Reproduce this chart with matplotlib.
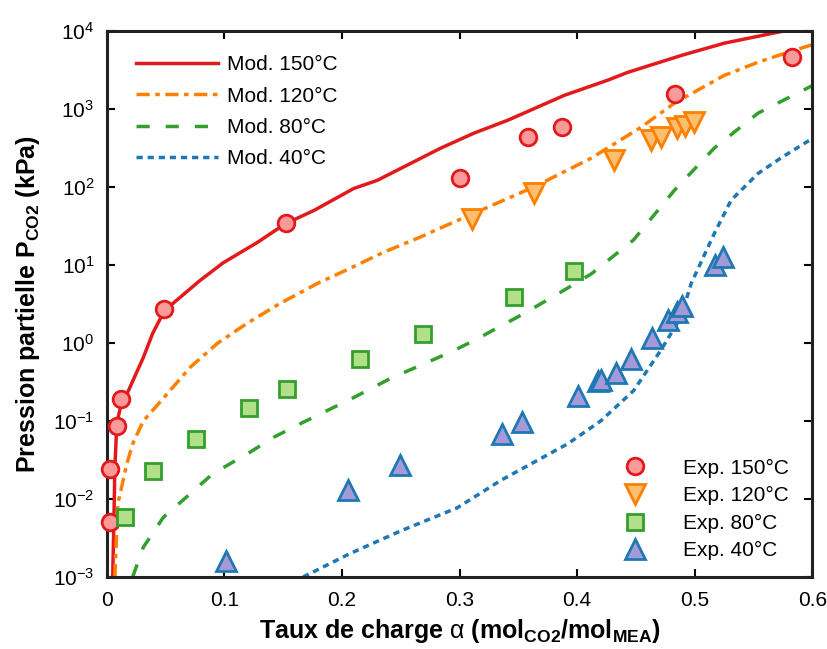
import numpy as np
import matplotlib
matplotlib.use("Agg")
import matplotlib.pyplot as plt

plt.rcParams['font.family'] = ['Liberation Sans', 'DejaVu Sans']
plt.rcParams['mathtext.fontset'] = 'custom'
plt.rcParams['mathtext.rm'] = 'Liberation Sans'
plt.rcParams['mathtext.bf'] = 'Liberation Sans:bold'
plt.rcParams['mathtext.it'] = 'Liberation Sans:italic'

# Model curves (loading alpha, partial pressure kPa)
mod150_x = [0.005, 0.006, 0.0068, 0.0085, 0.012, 0.017, 0.031, 0.039, 0.049, 0.079, 0.099,
            0.128, 0.152, 0.176, 0.210, 0.230, 0.284, 0.312, 0.341, 0.389, 0.426, 0.443,
            0.489, 0.525, 0.575, 0.600]
mod150_p = [0.001, 0.005, 0.024, 0.093, 0.16, 0.22, 0.65, 1.33, 2.6, 6.3, 10.7,
            19.5, 34, 50, 96, 122, 316, 490, 720, 1500, 2350, 2960,
            4900, 7000, 10000, 12500]

mod120_x = [0.0068, 0.0094, 0.017, 0.022, 0.031, 0.051, 0.071, 0.094, 0.119, 0.147, 0.179,
            0.207, 0.235, 0.267, 0.284, 0.312, 0.363, 0.412, 0.454, 0.483, 0.525, 0.554,
            0.580, 0.600]
mod120_p = [0.001, 0.0087, 0.028, 0.051, 0.10, 0.22, 0.49, 0.99, 1.78, 3.2, 5.8,
            9.1, 14.5, 23, 30, 46, 100, 235, 580, 1200, 2700, 4000,
            5400, 6700]

mod80_x = [0.022, 0.031, 0.048, 0.071, 0.090, 0.122, 0.142, 0.165, 0.210, 0.241, 0.292,
           0.312, 0.355, 0.384, 0.412, 0.448, 0.483, 0.517, 0.554, 0.600]
mod80_p = [0.001, 0.0024, 0.0058, 0.0117, 0.021, 0.040, 0.062, 0.093, 0.20, 0.35, 0.76,
           1.07, 2.4, 4.3, 7.7, 21, 92, 320, 890, 2000]

mod40_x = [0.167, 0.207, 0.250, 0.298, 0.335, 0.392, 0.420, 0.448, 0.471, 0.488, 0.497,
           0.517, 0.531, 0.554, 0.574, 0.600]
mod40_p = [0.001, 0.002, 0.0039, 0.0077, 0.0173, 0.051, 0.10, 0.245, 0.80, 2.1, 5.8,
           26, 68, 150, 240, 420]

# Experimental points
exp150_x = [0.0026, 0.003, 0.0085, 0.012, 0.049, 0.152, 0.300, 0.358, 0.387, 0.483, 0.583]
exp150_p = [0.005, 0.024, 0.087, 0.19, 2.7, 35, 130, 435, 590, 1550, 4600]

exp120_x = [0.311, 0.363, 0.431, 0.463, 0.471, 0.485, 0.492, 0.499]
exp120_p = [39, 83, 220, 400, 435, 570, 600, 680]

exp80_x = [0.0153, 0.039, 0.076, 0.121, 0.153, 0.215, 0.269, 0.346, 0.397]
exp80_p = [0.0059, 0.023, 0.058, 0.145, 0.26, 0.63, 1.29, 3.85, 8.4]

exp40_x = [0.101, 0.205, 0.249, 0.336, 0.353, 0.401, 0.418, 0.420, 0.433, 0.446, 0.464,
           0.477, 0.485, 0.489, 0.517, 0.524]
exp40_p = [0.0016, 0.013, 0.027, 0.068, 0.096, 0.21, 0.33, 0.34, 0.41, 0.63, 1.17,
           1.95, 2.5, 3.0, 10, 12.6]

red, orange, green, blue = '#e31a1c', '#ff7f00', '#33a02c', '#1f78b4'
lw = 2.5

fig = plt.figure(figsize=(8.28, 6.49), dpi=100)
ax = fig.add_axes([0.129, 0.111, 0.852, 0.841])

l1, = ax.plot(mod150_x, mod150_p, color=red, lw=lw, ls='-')
l2, = ax.plot(mod120_x, mod120_p, color=orange, lw=lw, ls=(0, (3.8, 1.6, 1.3, 1.6)))
l3, = ax.plot(mod80_x, mod80_p, color=green, lw=lw, ls=(0, (3.8, 4.6)))
l4, = ax.plot(mod40_x, mod40_p, color=blue, lw=lw, ls=(0, (1.8, 1.4)))

mk = dict(ls='none', mew=2.0, clip_on=False, zorder=5)
m1, = ax.plot(exp150_x, exp150_p, marker='o', ms=12, mfc='#fb9a99', mec=red, **mk)
m2, = ax.plot(exp120_x, exp120_p, marker='v', ms=14, mfc='#fdbf6f', mec=orange, **mk)
m3, = ax.plot(exp80_x, exp80_p, marker='s', ms=12, mfc='#b2df8a', mec=green, **mk)
m4, = ax.plot(exp40_x, exp40_p, marker='^', ms=14, mfc='#a59ad8', mec=blue, **mk)

ax.set_yscale('log')
ax.set_xlim(0, 0.6)
ax.set_ylim(1e-3, 1e4)
ax.set_xticks([0, 0.1, 0.2, 0.3, 0.4, 0.5, 0.6])
ax.set_xticklabels(['0', '0.1', '0.2', '0.3', '0.4', '0.5', '0.6'])
ax.set_yticks([10.0 ** k for k in range(-3, 5)])
ax.yaxis.set_minor_locator(matplotlib.ticker.NullLocator())
ax.tick_params(which='both', direction='in', top=True, right=True, length=6, width=1.5,
               labelsize=15)
ax.tick_params(axis='x', pad=10)
ax.tick_params(axis='y', pad=9)
for s in ax.spines.values():
    s.set_linewidth(2.2)
    s.set_color('#222222')

ax.set_xlabel('Taux de charge $\\mathrm{α}$ (mol$_{\\mathbf{CO2}}$/mol$_{\\mathbf{MEA}}$)',
              fontsize=18, fontweight='bold', labelpad=5)
ax.set_ylabel('Pression partielle P$_{\\mathbf{CO2}}$ (kPa)', fontsize=18,
              fontweight='bold', labelpad=8)

leg1 = ax.legend([l1, l2, l3, l4], ['Mod. 150°C', 'Mod. 120°C', 'Mod. 80°C', 'Mod. 40°C'],
                 loc='upper left', bbox_to_anchor=(0.03, 0.971), frameon=False, fontsize=15,
                 handlelength=3.9, handletextpad=0.45, labelspacing=0.59, borderaxespad=0)
ax.add_artist(leg1)
ax.legend([m1, m2, m3, m4], ['Exp. 150°C', 'Exp. 120°C', 'Exp. 80°C', 'Exp. 40°C'],
          loc='lower right', bbox_to_anchor=(0.979, 0.015), frameon=False, fontsize=15,
          handlelength=2.0, handletextpad=1.3, labelspacing=0.41, borderaxespad=0)

fig.savefig('out.png', dpi=100)
